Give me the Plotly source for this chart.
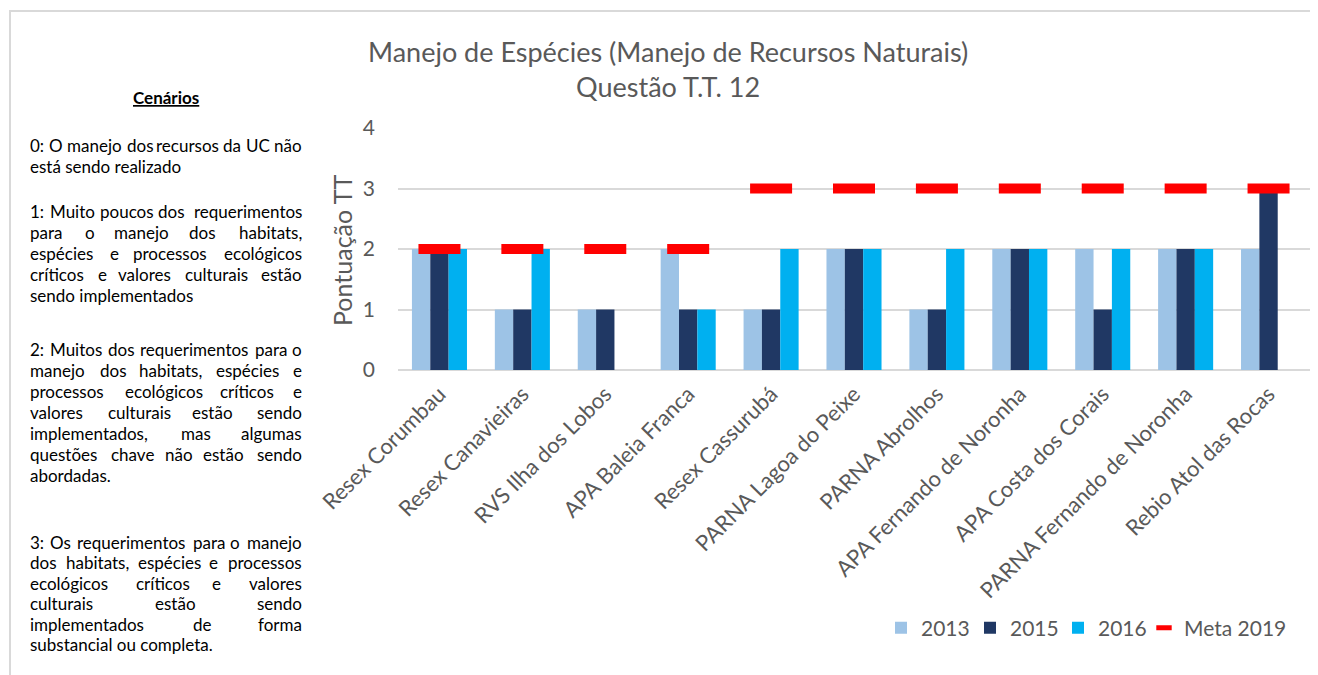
import plotly.graph_objects as go

categories = ["Resex Corumbau", "Resex Canavieiras", "RVS Ilha dos Lobos", "APA Baleia Franca",
              "Resex Cassurubá", "PARNA Lagoa do Peixe", "PARNA Abrolhos", "APA Fernando de Noronha",
              "APA Costa dos Corais", "PARNA Fernando de Noronha", "Rebio Atol das Rocas"]
v2013 = [2, 1, 1, 2, 1, 2, 1, 2, 2, 2, 2]
v2015 = [2, 1, 1, 1, 1, 2, 1, 2, 1, 2, 3]
v2016 = [2, 2, None, 1, 2, 2, 2, 2, 2, 2, None]
meta2019 = [2, 2, 2, 2, 3, 3, 3, 3, 3, 3, 3]

title_lines = ["Manejo de Espécies (Manejo de Recursos Naturais)", "Questão T.T. 12"]
y_title = "Pontuação TT"
panel_heading = "Cenários"
# (text, justified, screen y)
panel_lines = [
    ("0: O manejo dos recursos da UC não", True, 145), ("está sendo realizado", False, 166),
    ("1: Muito poucos dos requerimentos", True, 211), ("para o manejo dos habitats,", True, 232),
    ("espécies e processos ecológicos", True, 253), ("críticos e valores culturais estão", True, 274),
    ("sendo implementados", False, 295),
    ("2: Muitos dos requerimentos para o", True, 349), ("manejo dos habitats, espécies e", True, 370),
    ("processos ecológicos críticos e", True, 391), ("valores culturais estão sendo", True, 412),
    ("implementados, mas algumas", True, 433), ("questões chave não estão sendo", True, 454),
    ("abordadas.", False, 475),
    ("3: Os requerimentos para o manejo", True, 542), ("dos habitats, espécies e processos", True, 562.5),
    ("ecológicos críticos e valores", True, 583), ("culturais estão sendo", True, 603.5),
    ("implementados de forma", True, 624), ("substancial ou completa.", False, 644.5),
]

FONT = "Lato"
GRAY = "#595959"
OFF = 8  # page body margin
W, H = 1318 - OFF, 675 - OFF
SX0, SX1, SY0, SY1 = 398, 1310, 128, 370  # plot area in screen pixels


def px(x):
    return (x - SX0) / (SX1 - SX0)


def py(y):
    return (SY1 - y) / (SY1 - SY0)


fig = go.Figure()
fig.add_trace(go.Bar(x=categories, y=v2013, name="2013", legend="legend",
                     marker=dict(color="#9DC3E6", line_width=0)))
fig.add_trace(go.Bar(x=categories, y=v2015, name="2015", legend="legend2",
                     marker=dict(color="#203864", line_width=0)))
fig.add_trace(go.Bar(x=categories, y=v2016, name="2016", legend="legend3",
                     marker=dict(color="#00B0F0", line_width=0)))
fig.add_trace(go.Scatter(x=categories, y=meta2019, name="Meta 2019", mode="markers", showlegend=False,
                         marker=dict(symbol="line-ew", size=30, color="#FF0000",
                                     line=dict(color="#FF0000", width=10))))
# legend entry for the target markers (smaller symbol, as in the reference legend)
fig.add_trace(go.Scatter(x=[None], y=[None], name="Meta 2019", mode="markers", legend="legend4",
                         marker=dict(symbol="line-ew", size=11, color="#FF0000",
                                     line=dict(color="#FF0000", width=5))))

CW = {' ': 0.193, 'a': 0.49, 'b': 0.56, 'c': 0.46, 'd': 0.56, 'e': 0.52, 'f': 0.32, 'g': 0.5,
      'h': 0.55, 'i': 0.24, 'j': 0.24, 'k': 0.5, 'l': 0.24, 'm': 0.83, 'n': 0.55, 'o': 0.56,
      'p': 0.56, 'q': 0.56, 'r': 0.37, 's': 0.42, 't': 0.35, 'u': 0.55, 'v': 0.5, 'w': 0.76,
      'x': 0.49, 'y': 0.5, 'z': 0.44, ',': 0.23, '.': 0.23, ':': 0.25,
      'A': 0.68, 'C': 0.68, 'M': 0.89, 'O': 0.8, 'U': 0.73}
ACC = (("áâãà", "a"), ("éê", "e"), ("í", "i"), ("óôõ", "o"), ("ú", "u"), ("ç", "c"))


def wwidth(word, fs):
    total = 0
    for ch in word:
        base = ch if ch.isupper() else ch.lower()
        for a, b in ACC:
            if base in a:
                base = b
        total += CW.get(base, 0.58 if ch.isdigit() else 0.68)
    return total * fs * 1.035


annotations = []
PFS = 17
LX0, LX1 = 28, 304
annotations.append(dict(text="<b><u>" + panel_heading + "</u></b>", x=px(166), y=py(97),
                        xref="paper", yref="paper", showarrow=False, xanchor="center", yanchor="middle",
                        font=dict(family=FONT, size=PFS, color="#000000")))
for text, just, yy in panel_lines:
    words = text.split(" ")
    if not just:
        annotations.append(dict(text=text, x=px(LX0), y=py(yy), xref="paper", yref="paper",
                                showarrow=False, xanchor="left", yanchor="middle",
                                font=dict(family=FONT, size=PFS, color="#000000")))
        continue
    n = len(words)
    ws = [wwidth(w, PFS) for w in words]
    gap = (LX1 - LX0 - sum(ws)) / (n - 1)
    for i, w in enumerate(words):
        left = LX0 + sum(ws[:i]) + i * gap
        right = LX1 - sum(ws[i + 1:]) - (n - 1 - i) * gap
        if n % 2 == 1 and i == n // 2:
            xx, anc = (left + right) / 2, "center"
        elif i < n / 2:
            xx, anc = left, "left"
        else:
            xx, anc = right, "right"
        annotations.append(dict(text=w, x=px(xx), y=py(yy), xref="paper", yref="paper",
                                showarrow=False, xanchor=anc, yanchor="middle",
                                font=dict(family=FONT, size=PFS, color="#000000")))

annotations.append(dict(text=y_title, x=px(342), y=py(250), xref="paper", yref="paper",
                        showarrow=False, textangle=-90, xanchor="center", yanchor="middle",
                        font=dict(family=FONT, size=25, color=GRAY)))
annotations.append(dict(text="<br>".join(title_lines), x=px(668), y=py(68.5), xref="paper", yref="paper",
                        showarrow=False, xanchor="center", yanchor="middle", align="center",
                        font=dict(family=FONT, size=27, color=GRAY)))


def legend_at(sx):
    return dict(orientation="h", x=px(sx), y=py(628), xanchor="left", yanchor="middle",
                font=dict(family=FONT, size=21, color=GRAY), bgcolor="rgba(0,0,0,0)")


fig.update_layout(
    width=W, height=H,
    margin=dict(l=SX0 - OFF, r=W - (SX1 - OFF), t=SY0 - OFF, b=H - (SY1 - OFF), pad=0, autoexpand=False),
    paper_bgcolor="white", plot_bgcolor="white",
    barmode="group", bargap=0.336, bargroupgap=0,
    font=dict(family=FONT, color=GRAY),
    showlegend=True,
    legend=legend_at(881), legend2=legend_at(970), legend3=legend_at(1058), legend4=legend_at(1144),
    annotations=annotations,
    shapes=[dict(type="rect", xref="paper", yref="paper", x0=px(10), x1=px(1340), y0=py(11), y1=py(700),
                 line=dict(color="#D9D9D9", width=2), layer="below")],
    hovermode=False,
)
fig.update_yaxes(range=[0, 4], tickvals=[0, 1, 2, 3, 4], showgrid=True, gridcolor="#D9D9D9", gridwidth=1.5,
                 zeroline=True, zerolinecolor="#D9D9D9", zerolinewidth=1.5, showline=False,
                 tickfont=dict(family=FONT, size=21, color=GRAY), ticklabelstandoff=22, fixedrange=True)
fig.update_xaxes(range=[-0.5, 10.5], autorange=False, tickangle=-45,
                 tickfont=dict(family=FONT, size=22, color=GRAY), ticklabelstandoff=6, showline=False,
                 showgrid=False, fixedrange=True)

fig.write_html("out.html")
